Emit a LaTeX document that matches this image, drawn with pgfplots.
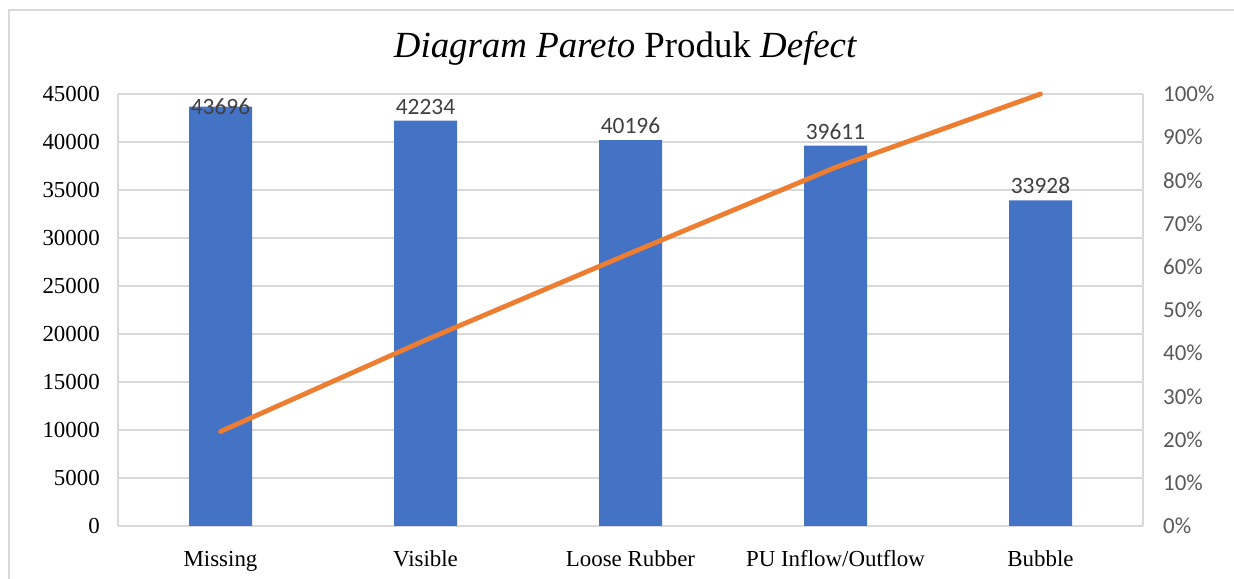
\documentclass[border=0pt]{standalone}
\usepackage{pgfplots}
\pgfplotsset{compat=1.18}
\usepackage{pgfplotstable}
\usepackage{fontspec}
\setmainfont{Liberation Serif}
\newfontfamily\carlito{Carlito}
\definecolor{barblue}{HTML}{4472C4}
\definecolor{lineorange}{HTML}{ED7D31}
\definecolor{gridgray}{HTML}{D9D9D9}
\definecolor{lblgray}{HTML}{404040}
\definecolor{ticgray}{HTML}{595959}

\pgfplotstableread{
x y shift
0 43696 -8.5
1 42234 6.5
2 40196 6.5
3 39611 6.5
4 33928 6.5
}\bardata

\pgfplotstableread{
x cum
0 21.88
1 43.04
2 63.17
3 83.01
4 100
}\cumdata

\begin{document}
\begin{tikzpicture}[x=1bp,y=1bp]
\useasboundingbox (0,0) rectangle (1234,579);
\draw[gridgray, line width=1.2bp] (9,0) -- (9,569) -- (1234,569);
\node[anchor=base, inner sep=0pt, font=\rmfamily\fontsize{37}{42}\selectfont] at (625.5,521.7)
  {\textit{Diagram Pareto} Produk \textit{Defect}};

\begin{axis}[
  at={(118bp,53bp)}, anchor=south west,
  scale only axis, width=1025bp, height=432bp,
  xmin=-0.5, xmax=4.5,
  ymin=0, ymax=45000,
  xtick={0,1,2,3,4},
  xticklabels={Missing,Visible,Loose Rubber,PU Inflow/Outflow,Bubble},
  ytick={0,5000,...,45000},
  scaled y ticks=false,
  /pgf/number format/1000 sep={},
  /pgf/number format/assume math mode=true,
  yticklabel={\rmfamily\pgfmathprintnumber[assume math mode=true]{\tick}},
  major tick length=0pt,
  axis line style={gridgray, line width=1.2bp},
  ymajorgrids, grid style={gridgray, line width=1.2bp},
  axis y line*=left,
  axis x line*=bottom,
  every outer x axis line/.append style={-},
  every outer y axis line/.append style={-},
  tick label style={font=\rmfamily\fontsize{23}{27}\selectfont, black},
  yticklabel style={anchor=east, inner sep=0pt, xshift=-18bp},
  xticklabel style={anchor=base, inner sep=0pt, yshift=-41bp},
  ybar, bar width=63bp,
  clip=false,
]
\addplot[fill=barblue, draw=none,
  visualization depends on={\thisrow{shift} \as \lblshift},
  point meta=explicit symbolic,
  nodes near coords={\carlito\pgfplotspointmeta},
  every node near coord/.append style={anchor=base, inner sep=0pt, yshift=\lblshift,
     font=\fontsize{23.5}{27}\selectfont, text=lblgray},
] table[x=x, y=y, meta=y] {\bardata};
\end{axis}

\begin{axis}[
  at={(118bp,53bp)}, anchor=south west,
  scale only axis, width=1025bp, height=432bp,
  xmin=-0.5, xmax=4.5,
  ymin=0, ymax=100,
  ytick={0,10,...,100},
  axis y line*=right,
  axis x line=none,
  major tick length=0pt,
  axis line style={gridgray, line width=1.2bp},
  every outer y axis line/.append style={-},
  /pgf/number format/assume math mode=true,
  yticklabel={\carlito\pgfmathprintnumber[assume math mode=true]{\tick}\%},
  yticklabel style={anchor=west, inner sep=0pt, xshift=20bp,
     font=\fontsize{23}{27}\selectfont, text=ticgray},
  clip=false,
]
\addplot[lineorange, line width=4.8bp, line cap=round, line join=round]
  table[x=x, y=cum] {\cumdata};
\end{axis}
\end{tikzpicture}
\end{document}
